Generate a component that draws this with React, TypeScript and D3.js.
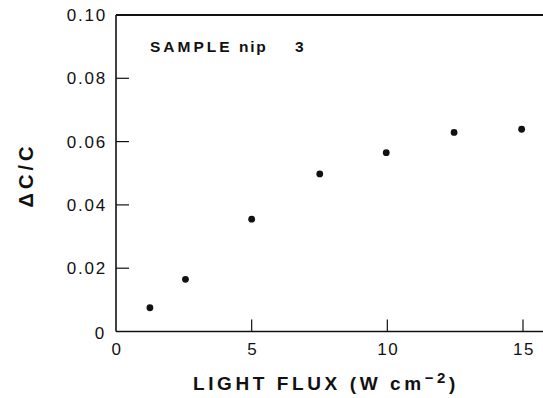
import React from "react";
import * as d3 from "d3";

const fluxValues = [1.25, 2.56, 5.0, 7.51, 9.96, 12.46, 14.95];
const deltaCValues = [0.0075, 0.0165, 0.0355, 0.0498, 0.0565, 0.0629, 0.0639];
const xTicks = [0, 5, 10, 15];
const yTicks = [0, 0.02, 0.04, 0.06, 0.08, 0.1];
const yTickLabels = ["0", "0.02", "0.04", "0.06", "0.08", "0.10"];

const W = 543;
const H = 398;

export default function App() {
  const x = d3.scaleLinear().domain([0, 15]).range([116, 523]);
  const y = d3.scaleLinear().domain([0, 0.1]).range([331.5, 15]);
  const ink = "#111";
  const tickFont = "'Liberation Sans', Arial, sans-serif";
  return (
    <svg
      width={W}
      height={H}
      style={{ position: "absolute", left: 0, top: 0, background: "#fff" }}
    >
      <rect x={0} y={0} width={W} height={H} fill="#fff" />
      {/* frame: left, bottom, top */}
      <line x1={x(0)} x2={x(0)} y1={y(0.1)} y2={y(0)} stroke={ink} strokeWidth={1.6} />
      <line x1={x(0)} x2={W} y1={y(0)} y2={y(0)} stroke={ink} strokeWidth={1.6} />
      <line x1={x(0)} x2={W} y1={y(0.1)} y2={y(0.1)} stroke={ink} strokeWidth={1.8} />
      {/* y ticks */}
      {yTicks.filter((t) => t > 0 && t < 0.1).map((t) => (
        <line key={"yt" + t} x1={x(0)} x2={x(0) + 13} y1={y(t)} y2={y(t)} stroke={ink} strokeWidth={1.2} />
      ))}
      {yTicks.map((t, i) => (
        <text
          key={"yl" + t}
          x={t === 0 ? 106 : 107}
          y={t === 0 ? y(t) + 1.5 : y(t)}
          dy="0.36em"
          textAnchor="end"
          fontFamily={tickFont}
          fontSize={17}
          letterSpacing={1.8}
          fill={ink}
        >
          {yTickLabels[i]}
        </text>
      ))}
      {/* x ticks */}
      {xTicks.filter((t) => t > 0).map((t) => (
        <line key={"xt" + t} x1={x(t)} x2={x(t)} y1={y(0)} y2={y(0) - 12} stroke={ink} strokeWidth={1.2} />
      ))}
      {xTicks.map((t) => (
        <text
          key={"xl" + t}
          x={x(t) + 1}
          y={349}
          dy="0.36em"
          textAnchor="middle"
          fontFamily={tickFont}
          fontSize={17}
          letterSpacing={1.5}
          fill={ink}
        >
          {String(t)}
        </text>
      ))}
      {/* points */}
      {fluxValues.map((f, i) => (
        <circle key={"p" + i} cx={x(f)} cy={y(deltaCValues[i])} r={3.4} fill={ink} />
      ))}
      {/* annotation */}
      <text x={150} y={52} fontFamily={tickFont} fontWeight="bold" fontSize={15.5} letterSpacing={3} fill={ink}>
        SAMPLE
      </text>
      <text x={239} y={52} fontFamily={tickFont} fontWeight="bold" fontSize={15.5} letterSpacing={1.8} fill={ink}>
        nip
      </text>
      <text x={295} y={52} fontFamily={tickFont} fontWeight="bold" fontSize={15.5} fill={ink}>
        3
      </text>
      {/* axis titles */}
      <text
        x={326}
        y={390}
        textAnchor="middle"
        fontFamily={tickFont}
        fontWeight="bold"
        fontSize={19}
        letterSpacing={3.6}
        fill={ink}
      >
        LIGHT FLUX (W cm
        <tspan dy={-7} fontSize={15}>−2</tspan>
        <tspan dy={7}>)</tspan>
      </text>
      <text
        transform="translate(33,175) rotate(-90)"
        textAnchor="middle"
        fontFamily={tickFont}
        fontWeight="bold"
        fontSize={20}
        letterSpacing={4}
        fill={ink}
      >
        ΔC/C
      </text>
    </svg>
  );
}
